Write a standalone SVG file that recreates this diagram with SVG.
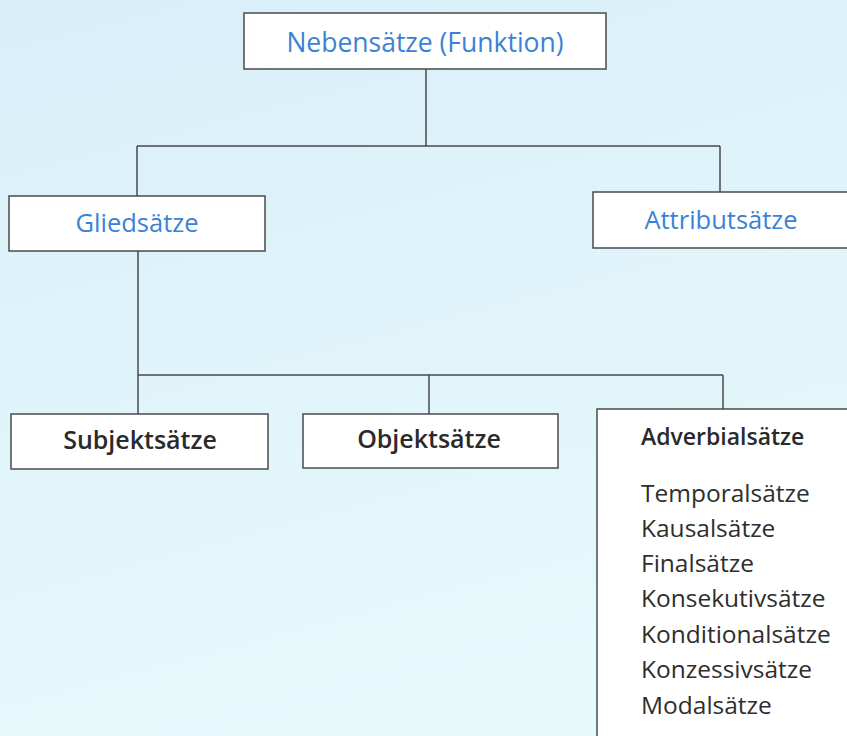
<svg xmlns="http://www.w3.org/2000/svg" width="847" height="736" viewBox="0 0 847 736">
<defs>
<linearGradient id="bg" x1="0" y1="0" x2="0.3" y2="1">
<stop offset="0" stop-color="#d9eef9"/>
<stop offset="1" stop-color="#e6f9fb"/>
</linearGradient>
<style>
.box{fill:#ffffff;stroke:#4a4a4a;stroke-width:1.5}
.line{fill:none;stroke:#4a4a4a;stroke-width:1.5}
.blue{font-family:"Open Sans","Noto Sans",sans-serif;font-size:25.5px;fill:#3b82d4;text-anchor:middle}
.bold{font-family:"Open Sans","Noto Sans",sans-serif;font-size:25px;font-weight:600;fill:#2a2a2a;text-anchor:middle}
.item{font-family:"Open Sans","Noto Sans",sans-serif;font-size:24.5px;fill:#2e2e2e}
</style>
</defs>
<rect width="847" height="736" fill="url(#bg)"/>
<g id="connectors">
<path class="line" d="M426 69 V146 M137 146 H720 M137 146 V196 M720 146 V192"/>
<path class="line" d="M138 251 V375 M138 375 H723 M138 375 V414 M429 375 V414 M723 375 V409"/>
</g>
<g id="nebensaetze">
<rect class="box" x="244" y="13" width="362" height="56"/>
<text class="blue" x="425" y="52" style="font-size:26.5px">Nebensätze (Funktion)</text>
</g>
<g id="gliedsaetze">
<rect class="box" x="9" y="196" width="256" height="55"/>
<text class="blue" x="137" y="232">Gliedsätze</text>
</g>
<g id="attributsaetze">
<rect class="box" x="593" y="192" width="262" height="56"/>
<text class="blue" x="721" y="229">Attributsätze</text>
</g>
<g id="subjektsaetze">
<rect class="box" x="11" y="414" width="257" height="55"/>
<text class="bold" x="140" y="449">Subjektsätze</text>
</g>
<g id="objektsaetze">
<rect class="box" x="303" y="414" width="255" height="54"/>
<text class="bold" x="429" y="448">Objektsätze</text>
</g>
<g id="adverbialsaetze">
<rect class="box" x="597" y="409" width="260" height="340"/>
<text class="bold" x="641" y="445" style="text-anchor:start;font-size:23px">Adverbialsätze</text>
<text class="item" x="641" y="502">Temporalsätze</text>
<text class="item" x="641" y="537">Kausalsätze</text>
<text class="item" x="641" y="572">Finalsätze</text>
<text class="item" x="641" y="607">Konsekutivsätze</text>
<text class="item" x="641" y="643">Konditionalsätze</text>
<text class="item" x="641" y="678">Konzessivsätze</text>
<text class="item" x="641" y="714">Modalsätze</text>
</g>
</svg>
